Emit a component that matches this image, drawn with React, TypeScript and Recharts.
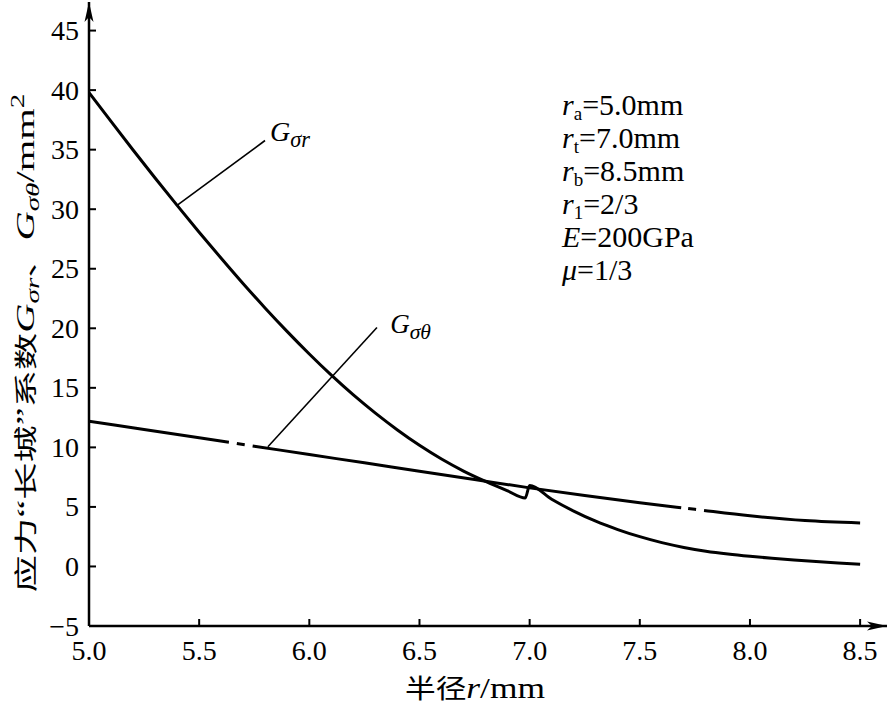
import React from 'react';
import { LineChart, Line, XAxis, YAxis, ReferenceLine, ReferenceDot } from 'recharts';

const SERIF = "'Liberation Serif', 'Times New Roman', 'Noto Sans CJK SC', serif";
const CJK = "'Noto Sans CJK SC', 'Liberation Serif', serif";

const xTicks = [5.0, 5.5, 6.0, 6.5, 7.0, 7.5, 8.0, 8.5];
const yTicks = [-5, 0, 5, 10, 15, 20, 25, 30, 35, 40, 45];

// G_sigma_r curve (jump at r = 7.0)
const rRadius = [5.0, 5.1, 5.2, 5.3, 5.4, 5.5, 5.6, 5.7, 5.8, 5.9, 6.0, 6.1, 6.2, 6.3, 6.4, 6.5, 6.6, 6.7, 6.8, 6.9, 6.98, 7.0, 7.1, 7.2, 7.3, 7.4, 7.5, 7.6, 7.7, 7.8, 7.9, 8.0, 8.1, 8.2, 8.3, 8.4, 8.5];
const gSigmaR = [39.8, 37.37, 34.97, 32.62, 30.32, 28.07, 25.88, 23.74, 21.69, 19.72, 17.84, 16.06, 14.4, 12.87, 11.46, 10.17, 9.02, 8.01, 7.14, 6.35, 5.75, 6.8, 5.65, 4.65, 3.8, 3.1, 2.5, 2.0, 1.6, 1.28, 1.04, 0.85, 0.69, 0.55, 0.42, 0.3, 0.19];

// G_sigma_theta curve
const tRadius = [5.0, 5.25, 5.5, 5.75, 6.0, 6.25, 6.5, 6.75, 7.0, 7.25, 7.5, 7.75, 8.0, 8.25, 8.5];
const gSigmaT = [12.2, 11.5, 10.8, 10.1, 9.4, 8.7, 8.0, 7.3, 6.6, 5.95, 5.35, 4.8, 4.25, 3.85, 3.65];

// parameter block
const paramSymbols = ['r', 'r', 'r', 'r', 'E', 'μ'];
const paramSubs = ['a', 't', 'b', '1', '', ''];
const paramValues = ['=5.0mm', '=7.0mm', '=8.5mm', '=2/3', '=200GPa', '=1/3'];

const rData = rRadius.map((x, i) => ({ x, g: gSigmaR[i] }));
const tData = tRadius.map((x, i) => ({ x, g: gSigmaT[i] }));

const fmtY = (v: number) => (v < 0 ? '\u2212' + Math.abs(v) : String(v));

const YTick = (props: any) => {
  const { x, y, payload } = props;
  return (
    <g>
      <line x1={x} y1={y} x2={x + 7} y2={y} stroke="#000" strokeWidth={2} />
      <text x={x - 10} y={y} dy="0.34em" textAnchor="end" fontSize={28} fontFamily={SERIF} fill="#000">
        {fmtY(payload.value)}
      </text>
    </g>
  );
};

const XTick = (props: any) => {
  const { x, y, payload } = props;
  return (
    <g>
      <line x1={x} y1={y} x2={x} y2={y - 7} stroke="#000" strokeWidth={2} />
      <text x={x} y={y + 34} textAnchor="middle" fontSize={28} fontFamily={SERIF} fill="#000">
        {payload.value.toFixed(1)}
      </text>
    </g>
  );
};

const ArrowRight = ({ cx, cy }: any) => (
  <path d={`M${cx},${cy} L${cx - 20},${cy - 4.5} L${cx - 15},${cy} L${cx - 20},${cy + 4.5} Z`} fill="#000" />
);

const ArrowUp = ({ cx, cy }: any) => (
  <path d={`M${cx},${cy} L${cx - 4.5},${cy + 20} L${cx},${cy + 15} L${cx + 4.5},${cy + 20} Z`} fill="#000" />
);

const SeriesLabel = (sub: string, size: number) => ({ cx, cy }: any) => (
  <text x={cx} y={cy} fontFamily={SERIF} fontSize={size} fill="#000" fontStyle="italic">
    G
    <tspan fontSize={size * 0.8} dy={6}>{sub}</tspan>
  </text>
);

const ParamBlock = ({ cx, cy }: any) => (
  <g>
    {paramSymbols.map((s, i) => (
      <text key={i} x={cx} y={cy + i * 33} fontFamily={SERIF} fontSize={30} fill="#000">
        <tspan fontStyle="italic">{s}</tspan>
        {paramSubs[i] ? (
          <>
            <tspan fontSize={19} dy={5}>{paramSubs[i]}</tspan>
            <tspan dy={-5}>{paramValues[i]}</tspan>
          </>
        ) : (
          <tspan>{paramValues[i]}</tspan>
        )}
      </text>
    ))}
  </g>
);

const YLabel = (props: any) => {
  const { viewBox } = props;
  const cx = viewBox.x + 25;
  const cy = viewBox.y + 341;
  return (
    <text
      x={0}
      y={0}
      transform={`translate(${cx} ${cy}) rotate(-90) scale(1.62 1)`}
      dy="0.35em"
      textAnchor="middle"
      fontFamily={SERIF}
      fontSize={25}
      fill="#000"
    >
      <tspan fontFamily={CJK} fontSize={23}>应力</tspan>
      <tspan>“</tspan>
      <tspan fontFamily={CJK} fontSize={23}>长城</tspan>
      <tspan>”</tspan>
      <tspan fontFamily={CJK} fontSize={23}>系数</tspan>
      <tspan fontStyle="italic">G</tspan>
      <tspan fontStyle="italic" fontSize={18} dy={5}>σr</tspan>
      <tspan dy={-5} fontFamily={CJK} fontSize={23}>、</tspan>
      <tspan fontStyle="italic">G</tspan>
      <tspan fontStyle="italic" fontSize={18} dy={5}>σθ</tspan>
      <tspan dy={-5}>/mm</tspan>
      <tspan fontSize={18} dy={-10}>2</tspan>
    </text>
  );
};

const XLabel = (props: any) => {
  const { viewBox } = props;
  const cx = viewBox.x + viewBox.width / 2 - 13;
  const cy = viewBox.y + 72;
  return (
    <text
      x={0}
      y={0}
      transform={`translate(${cx} ${cy}) scale(1.18 1)`}
      textAnchor="middle"
      fontFamily={SERIF}
      fontSize={30}
      fill="#000"
    >
      <tspan fontFamily={CJK} fontSize={26}>半径</tspan>
      <tspan fontStyle="italic">r</tspan>/mm
    </text>
  );
};

export default function App() {
  return (
    <div style={{ position: 'absolute', left: 0, top: 0, width: 890, height: 705, background: '#fff' }}>
      <LineChart width={890} height={705} margin={{ top: 2, right: 3, bottom: 0, left: 0 }}>
        <XAxis
          type="number"
          dataKey="x"
          domain={[5, 8.622]}
          ticks={xTicks}
          allowDataOverflow
          height={79}
          tickSize={0}
          tickMargin={0}
          tickLine={false}
          axisLine={{ stroke: '#000', strokeWidth: 2.5 }}
          tick={<XTick />}
          label={<XLabel />}
        />
        <YAxis
          type="number"
          domain={[-5, 47.4]}
          ticks={yTicks}
          allowDataOverflow
          width={89}
          tickSize={0}
          tickMargin={0}
          tickLine={false}
          axisLine={{ stroke: '#000', strokeWidth: 2.5 }}
          tick={<YTick />}
          label={<YLabel />}
        />
        <Line
          data={tData}
          dataKey="g"
          type="monotone"
          stroke="#000"
          strokeWidth={3}
          strokeDasharray="141.5 8 8 8 433 7 8 8 400"
          dot={false}
          activeDot={false}
          isAnimationActive={false}
        />
        <Line
          data={rData}
          dataKey="g"
          type="monotone"
          stroke="#000"
          strokeWidth={3}
          dot={false}
          activeDot={false}
          isAnimationActive={false}
        />
        <ReferenceLine
          segment={[{ x: 5.398, y: 30.3 }, { x: 5.799, y: 35.77 }]}
          stroke="#000"
          strokeWidth={1.6}
          ifOverflow="visible"
        />
        <ReferenceLine
          segment={[{ x: 5.812, y: 10.05 }, { x: 6.307, y: 20.06 }]}
          stroke="#000"
          strokeWidth={1.6}
          ifOverflow="visible"
        />
        <ReferenceDot x={5.822} y={35.7} ifOverflow="visible" shape={SeriesLabel('σr', 28)} />
        <ReferenceDot x={6.367} y={19.6} ifOverflow="visible" shape={SeriesLabel('σθ', 27)} />
        <ReferenceDot x={7.147} y={37.9} ifOverflow="visible" shape={ParamBlock} />
        <ReferenceDot x={8.622} y={-5} ifOverflow="visible" shape={ArrowRight} />
        <ReferenceDot x={5} y={47.4} ifOverflow="visible" shape={ArrowUp} />
      </LineChart>
    </div>
  );
}
